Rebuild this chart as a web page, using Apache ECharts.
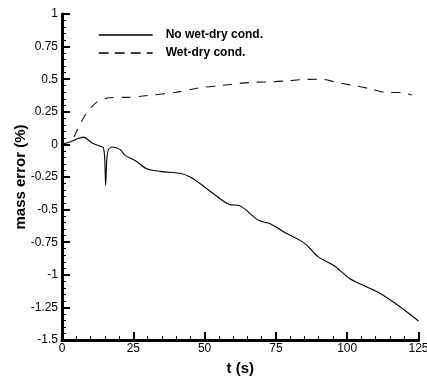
<!DOCTYPE html>
<html>
<head>
<meta charset="utf-8">
<script src="https://cdn.jsdelivr.net/npm/echarts@6/dist/echarts.min.js"></script>
<style>
  html, body { margin: 0; padding: 0; background: #fff; }
  #chart { width: 427px; height: 380px; }
</style>
</head>
<body>
<div id="chart"></div>
<script>
// Mass error history with and without wet-dry treatment
const noWetDryT = [0, 3, 5, 7.5, 10.4, 13.3, 14.5, 15.0, 15.3, 15.7, 16.3, 17.7, 20.4, 22.1, 25.6, 29.7, 34.4, 42, 44.9, 48.4, 53.1, 58.9, 61.9, 68.9, 73, 78.8, 83.5, 85.9, 89.9, 95.2, 101, 106.9, 111.6, 118.6, 125];
const noWetDryV = [0, 0.02, 0.04, 0.056, 0.013, -0.013, -0.025, -0.12, -0.314, -0.12, -0.04, -0.02, -0.04, -0.084, -0.123, -0.187, -0.207, -0.225, -0.25, -0.30, -0.378, -0.462, -0.467, -0.582, -0.608, -0.684, -0.736, -0.774, -0.863, -0.927, -1.03, -1.093, -1.144, -1.247, -1.354];

const wetDryT = [4.2, 8, 12.2, 16.8, 23.9, 30, 40, 48.4, 56, 61.9, 67.7, 73.6, 79.4, 85.3, 91.1, 96.4, 102.2, 108, 113.9, 119.2, 122.7];
const wetDryV = [0.056, 0.22, 0.324, 0.358, 0.362, 0.375, 0.40, 0.434, 0.452, 0.467, 0.477, 0.48, 0.488, 0.498, 0.50, 0.475, 0.452, 0.427, 0.398, 0.398, 0.378];

const seriesNames = ['No wet-dry cond.', 'Wet-dry cond.'];
const xTicks = [0, 25, 50, 75, 100, 125];
const yTicks = [-1.5, -1.25, -1, -0.75, -0.5, -0.25, 0, 0.25, 0.5, 0.75, 1];

const zip = (a, b) => a.map((v, i) => [v, b[i]]);

const chart = echarts.init(document.getElementById('chart'), null, { renderer: 'canvas' });
const font = 'Liberation Sans, Arial, sans-serif';

const axisCommon = {
  axisLine: { show: true, onZero: false, lineStyle: { color: '#000', width: 3 } },
  axisTick: { show: true, inside: true, length: 8, lineStyle: { color: '#000', width: 2 } },
  minorTick: { show: true, splitNumber: 5, length: 4, lineStyle: { color: '#000', width: 1 } },
  splitLine: { show: false },
  axisLabel: { color: '#000', fontFamily: font, fontSize: 12 },
  nameMoveOverlap: false,
  nameTextStyle: { color: '#000', fontFamily: font, fontSize: 15, fontWeight: 'bold' }
};

chart.setOption({
  animation: false,
  backgroundColor: '#fff',
  grid: { left: 62, right: 8.5, top: 14, bottom: 40, outerBoundsMode: 'none', containLabel: false },
  legend: {
    data: [
      { name: seriesNames[0], lineStyle: { type: 'solid', width: 1.3, color: '#000', opacity: 1 } },
      { name: seriesNames[1], lineStyle: { type: [10, 6], width: 1.3, color: '#000', opacity: 1 } }
    ],
    orient: 'vertical',
    left: 93,
    top: 24,
    padding: 5,
    itemWidth: 54,
    itemHeight: 10,
    itemGap: 6,
    itemStyle: { opacity: 0 },
    textStyle: { color: '#000', fontFamily: font, fontSize: 12, fontWeight: 'bold', padding: [0, 0, 0, 8] }
  },
  xAxis: Object.assign({}, axisCommon, {
    type: 'value',
    min: xTicks[0],
    max: xTicks[xTicks.length - 1],
    interval: 25,
    name: 't (s)',
    nameLocation: 'middle',
    nameGap: 21,
    axisLabel: Object.assign({}, axisCommon.axisLabel, { margin: 3 })
  }),
  yAxis: Object.assign({}, axisCommon, {
    type: 'value',
    min: yTicks[0],
    max: yTicks[yTicks.length - 1],
    interval: 0.25,
    name: 'mass error (%)',
    nameLocation: 'middle',
    nameGap: 34,
    axisLabel: Object.assign({}, axisCommon.axisLabel, { margin: 4 })
  }),
  series: [
    {
      name: seriesNames[0],
      type: 'line',
      data: zip(noWetDryT, noWetDryV),
      smooth: 0.3,
      symbol: 'none',
      lineStyle: { color: '#000', width: 1.1, type: 'solid' },
      itemStyle: { color: '#000' }
    },
    {
      name: seriesNames[1],
      type: 'line',
      data: zip(wetDryT, wetDryV),
      smooth: 0.3,
      symbol: 'none',
      lineStyle: { color: '#111', width: 1.1, type: [9, 8] },
      itemStyle: { color: '#111' }
    }
  ]
});
</script>
</body>
</html>
